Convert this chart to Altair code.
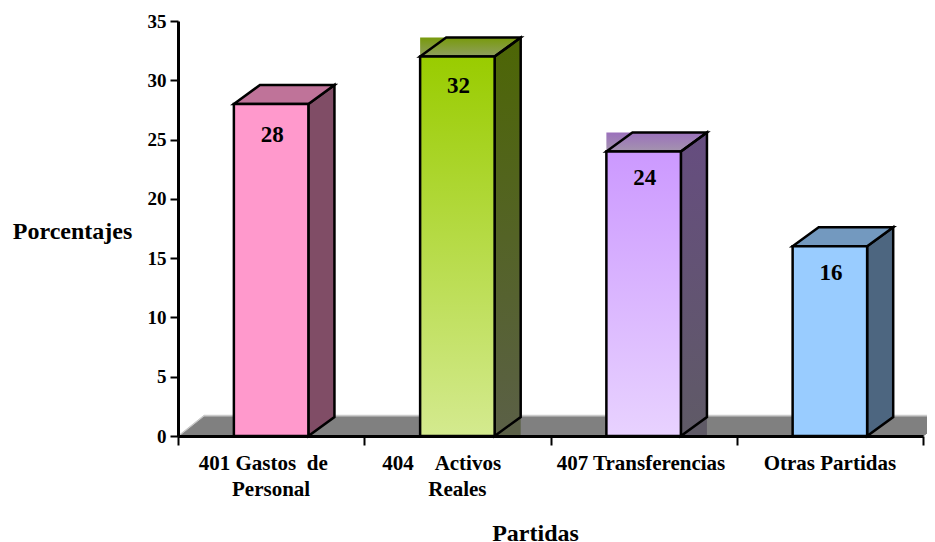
import altair as alt
import pandas as pd

categories = ["401 Gastos\u00a0\u00a0de\u00a0\u00a0\u00a0\u200b", "404\u00a0\u00a0\u00a0\u00a0Activos\u00a0\u00a0\u00a0\u00a0\u00a0\u00a0\u200b", "407 Transferencias\u00a0\u200b", "Otras Partidas"]
second_lines = ["Personal", "Reales", "", ""]
values = [28, 32, 24, 16]
value_dy = [31, 29, 27, 27]
front_top = ["#FF99CC", "#99CC00", "#CC99FF", "#99CCFF"]
front_bot = ["#FF99CC", "#D4EA8F", "#E8D2FF", "#99CCFF"]
side_top = ["#804D66", "#4D6605", "#664D80", "#4D6680"]
side_bot = ["#804D66", "#5B6047", "#5F5A66", "#4D6680"]
roof_col = ["#BF7399", "#7D9A22", "#9F80BB", "#7399BF"]
halo_top = [None, "#789A0C", "#9B70BC", None]
halo_bot = [None, "#8F9F60", "#A494AE", None]

W, H = 745, 415
XMAX, YMAX = 4, 35
DX = 0.14      # depth of the 3D box in x units
DY = 1.6       # depth of the 3D box in y units
BL, BR = 0.30, 0.70
FONT = "Liberation Serif"
SW = 2.5

x_scale = alt.Scale(domain=[0, XMAX], nice=False, zero=False)
y_scale = alt.Scale(domain=[0, YMAX], nice=False)
X = lambda f: alt.X(f, type="quantitative", scale=x_scale, axis=None)
Y = lambda f: alt.Y(f, type="quantitative", scale=y_scale, axis=None)


def grad(c1, c2):
    return alt.Gradient(gradient="linear", x1=0, x2=0, y1=0, y2=1,
                        stops=[alt.GradientStop(color=c1, offset=0),
                               alt.GradientStop(color=c2, offset=1)])


def area(rows, fill, stroke="black", sw=SW):
    return alt.Chart(pd.DataFrame(rows)).mark_area(
        fill=fill, stroke=stroke, strokeWidth=sw, orient="vertical",
        strokeJoin="miter", clip=False, opacity=1, interpolate="linear"
    ).encode(x=X("x"), y=Y("y"), y2=alt.Y2("y2"))


def rect(x0, x1, y0, y1, fill, stroke=None, sw=SW):
    kw = dict(stroke=stroke, strokeWidth=sw) if stroke else {}
    return alt.Chart(pd.DataFrame([dict(x=x0, x2=x1, y=y0, y2=y1)])).mark_rect(
        fill=fill, **kw).encode(x=X("x"), x2=alt.X2("x2"), y=Y("y"), y2=alt.Y2("y2"))


axes = alt.Chart(pd.DataFrame({"x": [0, 1, 2, 3, 4], "y": [0, 5, 10, 15, 20]})).mark_point(opacity=0).encode(
    x=alt.X("x:Q", scale=x_scale, axis=alt.Axis(
        values=[0, 1, 2, 3, 4], labels=False, title="Partidas", titleFont=FONT, titleFontWeight="bold",
        titleFontSize=24, titleColor="black", titleX=357, titleY=97, titleBaseline="middle",
        domainColor="black", domainWidth=3, tickColor="black", tickWidth=2, tickSize=9, grid=False, zindex=1)),
    y=alt.Y("y:Q", scale=y_scale, axis=alt.Axis(
        values=[0, 5, 10, 15, 20, 25, 30, 35], title="Porcentajes", titleFont=FONT, titleFontWeight="bold",
        titleFontSize=24, titleColor="black", titleAngle=0, titleAlign="center", titleBaseline="middle",
        titleX=-106, titleY=210, labelFont=FONT, labelFontWeight="bold", labelFontSize=19, labelColor="black",
        labelPadding=4, domainColor="black", domainWidth=3, tickColor="black", tickWidth=2, tickSize=8, grid=False, zindex=1)),
)

layers = [axes]

# floor with its pale back edge
floor_end = XMAX + DX
layers.append(area([dict(x=0, y=0, y2=0), dict(x=DX, y=DY + 0.15, y2=0),
                    dict(x=floor_end - DX, y=DY + 0.15, y2=0),
                    dict(x=floor_end, y=DY + 0.15, y2=DY + 0.15)],
                   "#C8C8C8", stroke="#C8C8C8", sw=1))
layers.append(area([dict(x=0.012, y=0, y2=0), dict(x=DX, y=DY, y2=0),
                    dict(x=floor_end - DX, y=DY, y2=0),
                    dict(x=floor_end, y=DY, y2=DY)],
                   "#808080", stroke="#808080", sw=1))

for i, v in enumerate(values):
    L, R = i + BL, i + BR
    if halo_top[i]:
        layers.append(rect(L, R + DX, v, v + DY, grad(halo_top[i], halo_bot[i])))
        layers.append(rect(R, R + DX, 0, DY, side_bot[i]))
    layers.append(area([dict(x=R, y=v, y2=0), dict(x=R + DX, y=v + DY, y2=DY)],
                       grad(side_top[i], side_bot[i])))
    roof = roof_col[i] if not halo_top[i] else "transparent"
    layers.append(area([dict(x=L, y=v, y2=v), dict(x=L + DX, y=v + DY, y2=v),
                        dict(x=R, y=v + DY, y2=v), dict(x=R + DX, y=v + DY, y2=v + DY)],
                       roof))
    layers.append(rect(L, R, 0, v, grad(front_top[i], front_bot[i]), stroke="black"))

df = pd.DataFrame({"x": [i + 0.5 for i in range(4)], "v": values,
                   "l1": categories, "l2": second_lines})

value_labels = alt.layer(*[
    alt.Chart(df.iloc[[i]]).mark_text(
        font=FONT, fontWeight="bold", fontSize=23, color="black", dy=value_dy[i], dx=1
    ).encode(x=X("x"), y=Y("v"), text="v:Q")
    for i in range(4)
])

label1 = alt.Chart(df).mark_text(
    font=FONT, fontWeight="bold", fontSize=21, color="black"
).encode(x=X("x"), y=alt.value(H + 28), text="l1:N")
label2 = alt.Chart(df).mark_text(
    font=FONT, fontWeight="bold", fontSize=21, color="black"
).encode(x=X("x"), y=alt.value(H + 54), text="l2:N")

chart = alt.layer(*layers, value_labels, label1, label2).resolve_axis(
    x="independent", y="independent"
).properties(
    width=W, height=H,
    padding={"left": 170, "top": 13, "right": 4, "bottom": 106},
    autosize=alt.AutoSizeParams(type="none"),
    background="white",
).configure_view(stroke=None)

chart.save("out.html", embed_options={"renderer": "svg", "actions": False})
